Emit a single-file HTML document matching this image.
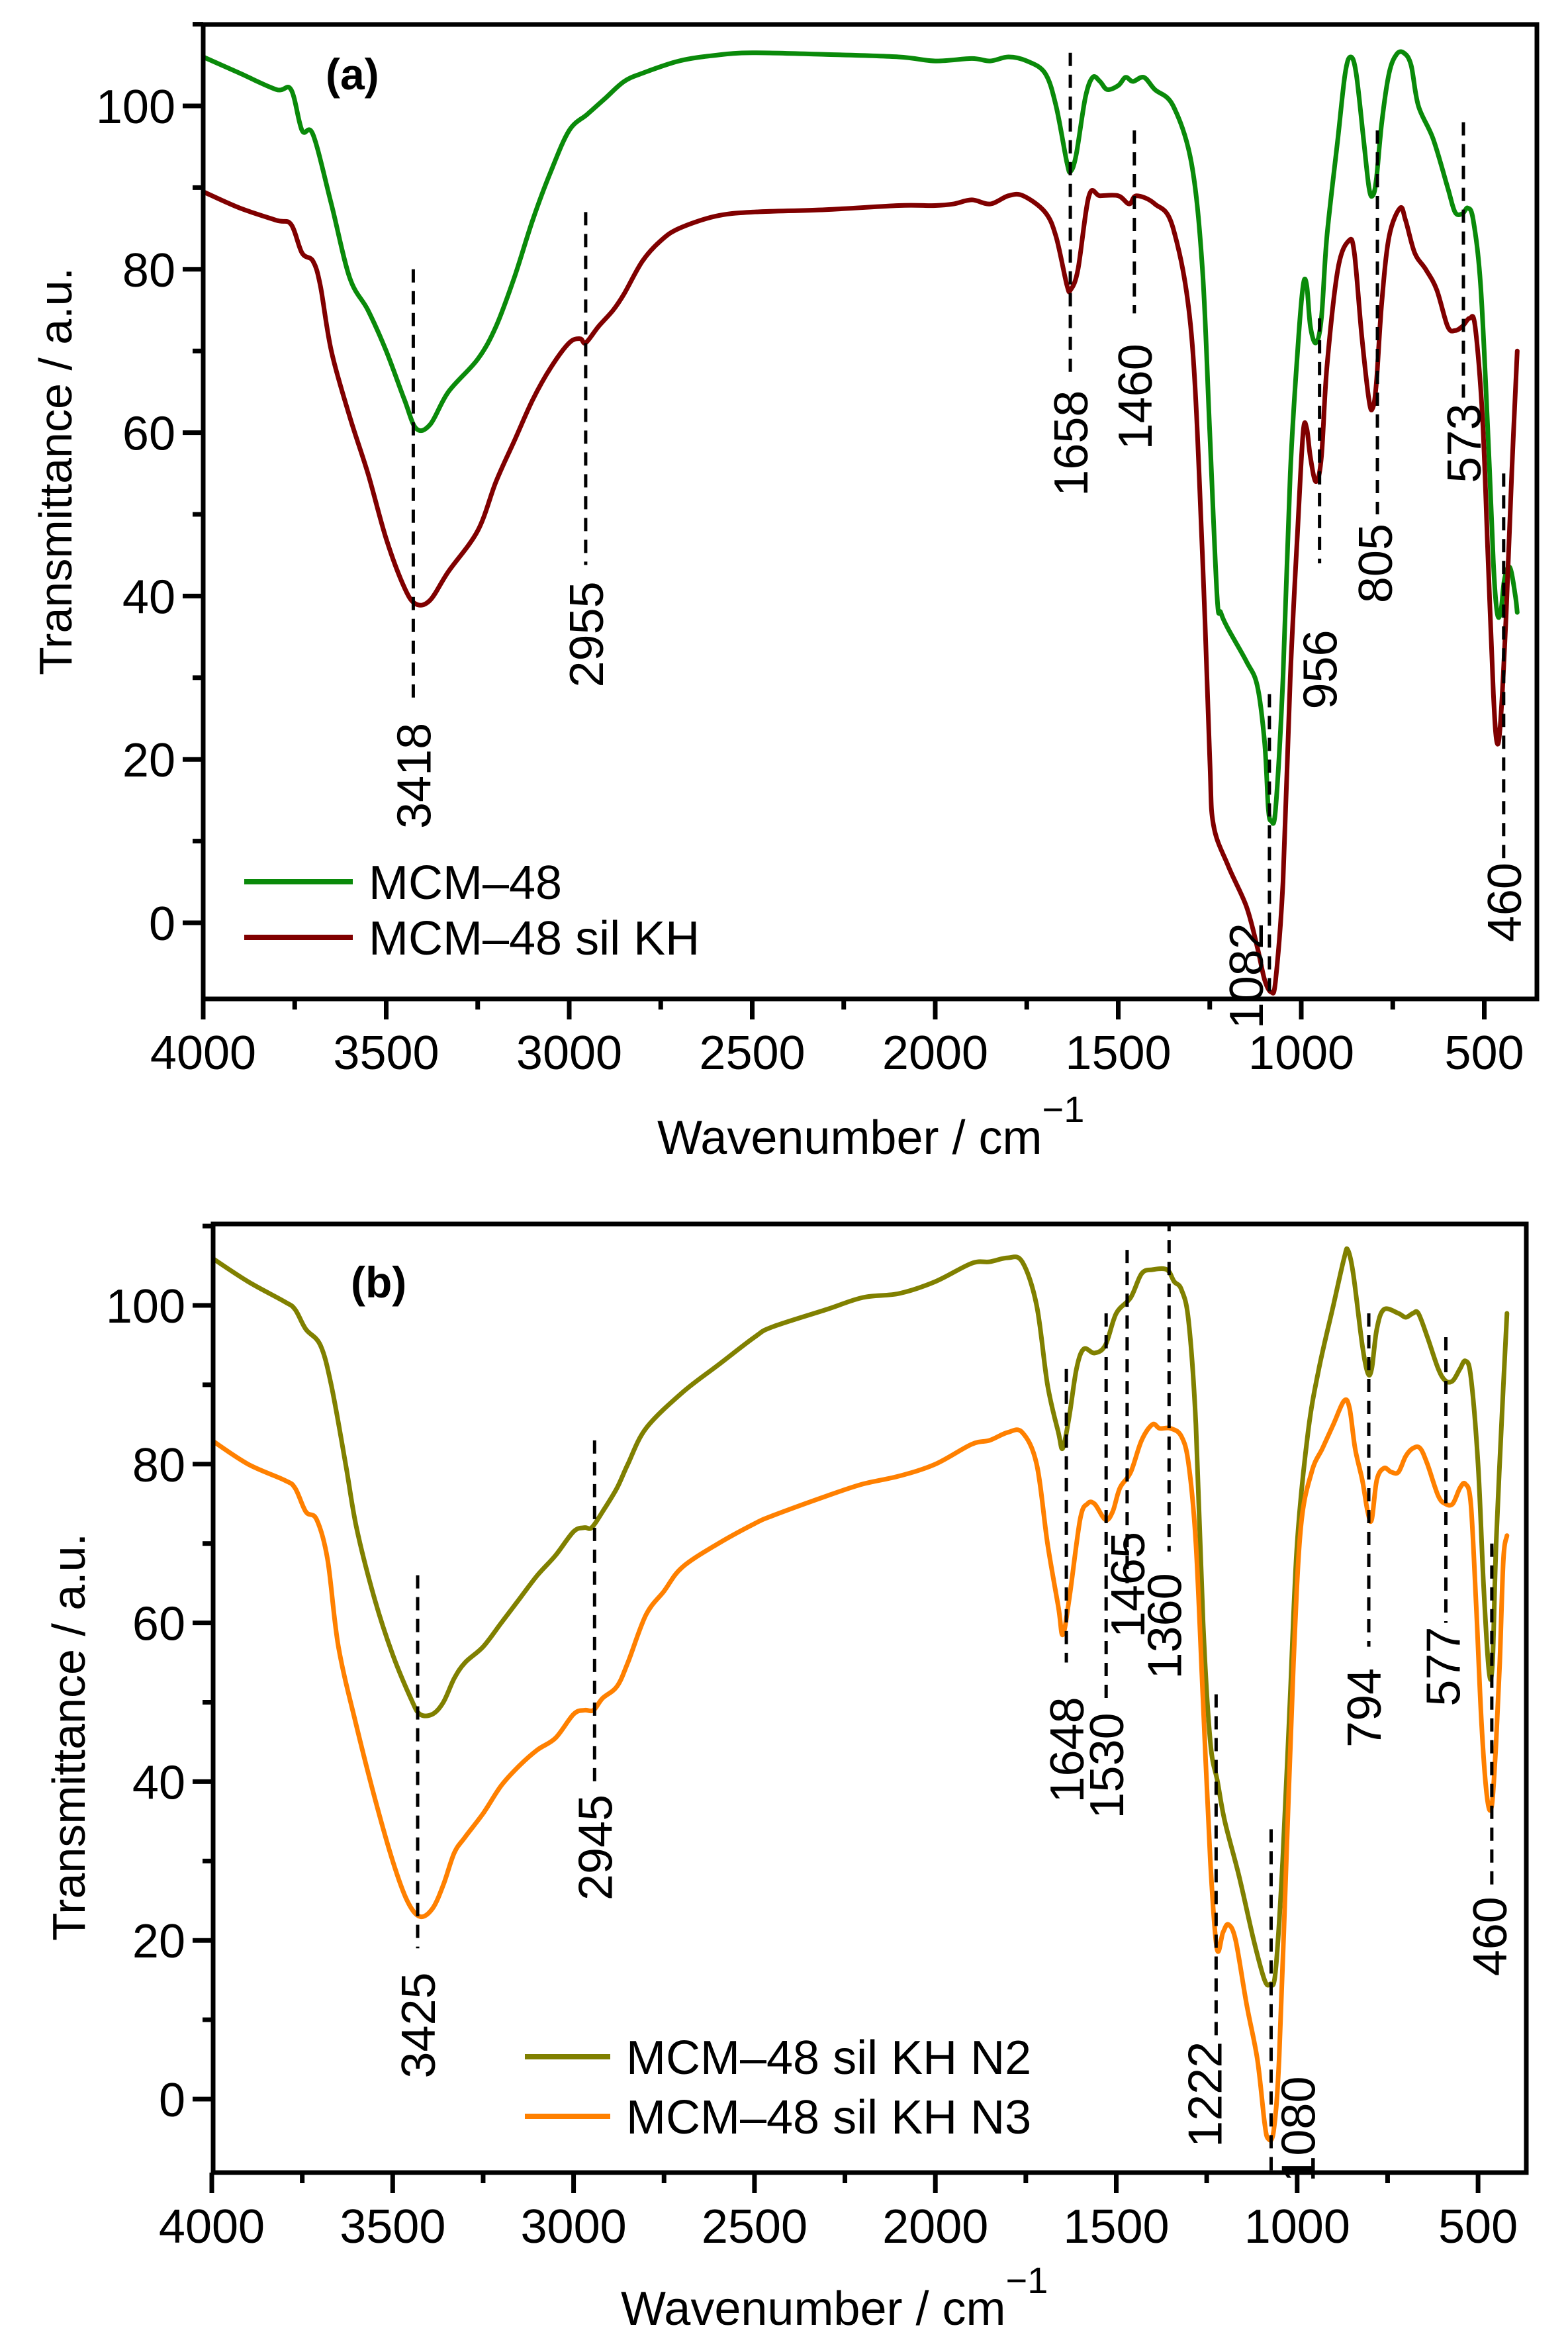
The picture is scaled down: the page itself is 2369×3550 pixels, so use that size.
<!DOCTYPE html>
<html><head><meta charset="utf-8"><style>
html,body{margin:0;padding:0;background:#fff}
svg{display:block}
text{font-family:"Liberation Sans",sans-serif;fill:#000}
</style></head><body>
<svg id="fig" width="2369" height="3550" viewBox="0 0 2369 3550" xmlns="http://www.w3.org/2000/svg"></svg>
<script>
// ---------- Panel (a) data ----------
const wnA1=[4000,3900,3800,3760,3730,3700,3650,3600,3550,3500,3450,3418,3380,3330,3250,3200,3150,3100,3050,3000,2950,2900,2850,2800,2700,2600,2500,2300,2100,2000,1900,1850,1800,1750,1700,1670,1640,1630,1615,1590,1570,1550,1530,1500,1480,1460,1430,1400,1350,1300,1270,1250,1230,1220,1200,1150,1120,1100,1090,1082,1070,1050,1030,1010,995,985,975,960,945,930,900,880,865,850,830,815,805,795,780,760,740,720,700,680,640,600,580,560,545,530,510,490,475,465,455,445,430,415,410];
const tA1=[106,104,102,102,97,96.5,88,79,75,70,64,60.5,61,65,69,73,79,86,92,97,99,101,103,104,105.5,106.2,106.5,106.3,106,105.5,105.8,105.5,106,105.5,104,100,93,92,94,101,103.5,103,102,102.5,103.5,103,103.5,102,100,93,80,60,40,38,36,32,29,22,14,12.5,14,30,55,70,78,78,73,71,74,84,96,104,106,104,96,90,89,91,98,104,106.3,106.5,105,100,96,90,87,86.8,87.5,86,78,60,44,38,38,42,43.5,40,38];
const wnA2=[4000,3900,3800,3760,3730,3700,3680,3650,3600,3550,3500,3450,3418,3380,3330,3250,3200,3150,3100,3050,3000,2970,2955,2920,2880,2850,2800,2750,2700,2600,2500,2300,2100,2000,1950,1900,1850,1800,1760,1700,1670,1640,1630,1610,1580,1550,1500,1470,1450,1400,1350,1300,1270,1250,1240,1200,1150,1120,1100,1082,1070,1050,1030,1010,995,985,975,960,945,930,900,870,855,835,815,805,795,780,760,730,715,690,660,630,600,580,560,540,525,505,490,475,465,455,440,425,410];
const tA2=[89.5,87.5,86,85.5,82,81,78,70,62,55,47,41,39,39.5,43,48,54,59,64,68,71,71.5,71,73,75,77,81,83.5,85,86.5,87,87.3,87.8,87.8,88,88.5,88,89,89,87,84,78,77.5,80,89,89,89,88,89,88,85,72,45,20,12,7,2,-3,-7,-8.5,-7,5,30,48,60,60.5,57,54,57,68,80,83.5,82,72,64,63,66,76,84,87.5,86,82,80,77.5,73,72.5,73,74,73,62,45,28,22,25,38,55,70];
const annLabA=["3418","2955","1658","1460","1082","956","805","573","460"];
const annWnA=[3426,2955,1631,1456,1087,950,792,557,447];
const annTopA=[80,87,106.5,97,28,74,97,98,55];
const annBotA=[27.5,43.8,66.5,74.6,-10,44,50,64,7];
const annCenA=[18,35.3,58.7,64.4,-6.5,31,44,58.7,2.5];
const annOffA=[0,0,0,0,-36,0,-4,0,0];

// ---------- Panel (b) data ----------
const wnB1=[4000,3900,3800,3770,3740,3700,3670,3630,3600,3550,3500,3450,3425,3390,3360,3330,3300,3250,3200,3150,3100,3050,3000,2970,2950,2920,2880,2850,2800,2700,2600,2500,2450,2300,2200,2100,2000,1900,1850,1800,1760,1720,1690,1660,1648,1630,1610,1590,1560,1530,1500,1460,1430,1400,1360,1340,1320,1300,1280,1260,1240,1220,1200,1160,1120,1090,1075,1060,1040,1020,1000,970,940,900,870,860,845,820,805,794,780,760,720,700,680,665,640,610,590,570,550,535,520,500,485,470,460,450,430,420];
const tB1=[106,103,100.5,99.5,97,95,90,80,72,63,56,50.5,48.5,48.5,50,53,55,57,60,63,66,68.5,71.5,72,72,74,77,80,84.5,89,92.5,96,97.3,99.5,101,101.5,103,105.3,105.5,106,105.5,100,90,84,82,86,92,94.5,94,95,99,101,104,104.5,104.5,103,102,98,85,60,45,40,35,28,20,15,14.5,16,30,50,70,84,92,100,106,107,104,95,91.5,92,97,99.5,99,98.5,99,99,96,92,90.5,90.5,92,93,91,80,65,54,55,70,90,99];
const wnB2=[4000,3900,3800,3770,3740,3710,3680,3650,3600,3550,3500,3460,3425,3390,3360,3330,3300,3250,3200,3150,3100,3050,3000,2970,2945,2920,2880,2850,2800,2750,2700,2600,2500,2450,2300,2200,2100,2000,1900,1850,1800,1760,1720,1690,1660,1648,1630,1600,1580,1560,1530,1510,1490,1460,1430,1400,1380,1350,1320,1300,1280,1260,1240,1222,1205,1190,1170,1140,1110,1090,1080,1065,1050,1030,1010,990,960,930,900,870,855,840,820,805,794,780,760,740,720,700,680,660,640,610,590,570,550,535,520,505,490,475,462,450,440,430,420];
const tB2=[83,80,78,77,74,73,68,57,47,38,30,25,23,24,27,31,33,36,39.5,42,44,45.5,48.5,49,49,50.5,52,55,61,64,67,70,72.5,73.5,76,77.5,78.5,80,82.5,83,84,84,80,70,62,58.5,63,73,75,75,73,74,77,79,83,85,84.5,84.5,83.5,80,70,50,30,19,21,22,20,12,5,-3,-5,-4,5,30,55,72,79,82,85,88,87,82,78,74,73,78,79.5,79,79,81,82,82,80,76,75,75,77,77.5,75,62,47,38,37,45,55,68,71];
const annLabB=["3425","2945","1648","1530","1465","1360","1222","1080","794","577","460"];
const annWnB=[3431,2942,1638,1528,1470,1354,1224,1072,802,589,462];
const annTopB=[66,83,92,99,107,111,51,34,99,96,70];
const annBotB=[19,40,55,50,65,69,8,-10,57,60,27];
const annCenB=[9.3,31.7,44,42,64.8,59.6,0.6,-3.8,49.3,54.5,20.5];
const annOffB=[0,0,0,0,0,-8,-18,40,-8,-5,-4];

const NS="http://www.w3.org/2000/svg";
const svg=document.getElementById('fig');
function el(tag,attrs,parent){const e=document.createElementNS(NS,tag);for(const k in attrs)e.setAttribute(k,attrs[k]);(parent||svg).appendChild(e);return e;}
function smoothPath(P){
  let d='M'+P[0][0].toFixed(1)+','+P[0][1].toFixed(1);
  for(let i=0;i<P.length-1;i++){
    const p0=P[i-1]||P[i],p1=P[i],p2=P[i+1],p3=P[i+2]||p2;
    const c1x=p1[0]+(p2[0]-p0[0])/6,c1y=p1[1]+(p2[1]-p0[1])/6;
    const c2x=p2[0]-(p3[0]-p1[0])/6,c2y=p2[1]-(p3[1]-p1[1])/6;
    d+='C'+c1x.toFixed(1)+','+c1y.toFixed(1)+' '+c2x.toFixed(1)+','+c2y.toFixed(1)+' '+p2[0].toFixed(1)+','+p2[1].toFixed(1);
  }
  return d;
}

function panel(cfg){
  const g=el('g',{});
  
  
  const X=w=>cfg.x4000+(4000-w)*cfg.pxPerCm;
  const Y=v=>cfg.y0+(cfg.y100-cfg.y0)*v/100;
  const clipId=cfg.name+'-clip';
  const cp=el('clipPath',{id:clipId},g);
  el('rect',{x:cfg.L,y:cfg.T,width:cfg.R-cfg.L,height:cfg.B-cfg.T},cp);
  for(let w=4000;w>=cfg.xmin;w-=250){
    const major=(w%500===0);const x=X(w);
    const t=el('line',{x1:x,x2:x,y1:cfg.B,y2:cfg.B+(major?31:16),stroke:'#000','stroke-width':7},g);
    
    
    if(major){const tx=el('text',{x:x,y:cfg.B+106,'font-size':72,'text-anchor':'middle'},g);tx.textContent=w;
      
      }
  }
  for(let v=-10;v<=110;v+=10){
    const y=Y(v); if(y<cfg.T-1||y>cfg.B+1)continue;
    const major=(v%20===0);
    const t=el('line',{x1:cfg.L,x2:cfg.L-(major?31:16),y1:y,y2:y,stroke:'#000','stroke-width':7},g);
    
    
    if(major){const tx=el('text',{x:cfg.L-42,y:y+26,'font-size':72,'text-anchor':'end'},g);tx.textContent=v;
      
      }
  }
  const sg=el('g',{'clip-path':'url(#'+clipId+')'},g);
  cfg.series.forEach(s=>{
    const pts=s.wn.map((w,i)=>[X(w),Y(s.t[i])]);
    const p=el('path',{d:smoothPath(pts),fill:'none',stroke:s.color,'stroke-width':7,'stroke-linejoin':'round','stroke-linecap':'round'},sg);
    
    
  });
  cfg.ann.lab.forEach((lab,i)=>{
    const x=X(cfg.ann.wn[i]);
    const ln=el('line',{x1:x,x2:x,y1:Y(cfg.ann.top[i]),y2:Y(cfg.ann.bot[i]),stroke:'#000','stroke-width':5,'stroke-dasharray':'20 13'},sg);
    
    
    const cx=x+cfg.ann.off[i], cy=Y(cfg.ann.cen[i]);
    const tx=el('text',{x:cx+26,y:cy,'font-size':72,'text-anchor':'middle',transform:'rotate(-90 '+(cx+26)+' '+cy+')'},g);
    tx.textContent=lab;
    
    
  });
  const fr=el('rect',{x:cfg.L,y:cfg.T,width:cfg.R-cfg.L,height:cfg.B-cfg.T,fill:'none',stroke:'#000','stroke-width':7},g);
  
  
  const pl=el('text',{x:cfg.labX,y:cfg.labY,'font-size':66,'font-weight':'bold'},g);pl.textContent=cfg.label;
  
  
  cfg.series.forEach((s,i)=>{
    const y=cfg.legY+i*cfg.legDy;
    const l=el('line',{x1:cfg.legX,x2:cfg.legX+cfg.legW,y1:y,y2:y,stroke:s.color,'stroke-width':8},g);
    
    
    const t=el('text',{x:cfg.legX+cfg.legW+24,y:y+26,'font-size':72},g);t.textContent=s.label;
    
    
  });
  const xt=el('text',{x:cfg.xtX,y:cfg.xtY,'font-size':72},g);
  xt.textContent='Wavenumber / cm';
  
  
  const sup=el('tspan',{dy:-48,'font-size':56},xt);sup.textContent='\u22121';
  const yt=el('text',{x:cfg.ytX,y:cfg.ytY,'font-size':70,'text-anchor':'middle',transform:'rotate(-90 '+cfg.ytX+' '+cfg.ytY+')'},g);
  yt.textContent='Transmittance / a.u.';
  
  
}

panel({name:'panel-a',L:307,R:2322,T:37,B:1509,x4000:307,pxPerCm:276.5/500,xmin:350,y0:1394,y100:160,
  series:[{id:'series-mcm48',label:'MCM\u201348',color:'#0a8a0a',wn:wnA1,t:tA1},
          {id:'series-mcm48-sil-kh',label:'MCM\u201348 sil KH',color:'#800000',wn:wnA2,t:tA2}],
  ann:{lab:annLabA,wn:annWnA,top:annTopA,bot:annBotA,cen:annCenA,off:annOffA},
  label:'(a)',labX:492,labY:135,legX:369,legW:164,legY:1332,legDy:84,
  xtX:993,xtY:1743,ytX:108,ytY:712});
panel({name:'panel-b',L:322,R:2306,T:1849,B:3282,x4000:320,pxPerCm:273.3/500,xmin:365,y0:3171,y100:1972,
  series:[{id:'series-mcm48-sil-kh-n2',label:'MCM\u201348 sil KH N2',color:'#808000',wn:wnB1,t:tB1},
          {id:'series-mcm48-sil-kh-n3',label:'MCM\u201348 sil KH N3',color:'#ff8000',wn:wnB2,t:tB2}],
  ann:{lab:annLabB,wn:annWnB,top:annTopB,bot:annBotB,cen:annCenB,off:annOffB},
  label:'(b)',labX:530,labY:1960,legX:793,legW:129,legY:3107,legDy:90,
  xtX:938,xtY:3512,ytX:128,ytY:2624});
</script>
</body></html>
